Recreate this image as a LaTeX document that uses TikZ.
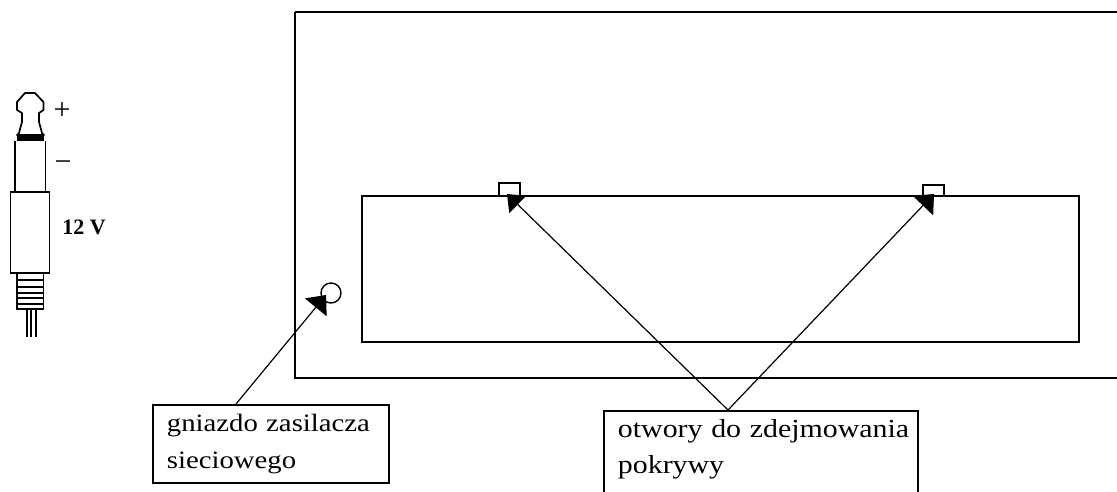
\documentclass[tikz,border=0pt]{standalone}
\usepackage{fontspec}
\setmainfont{Liberation Serif}
\newfontfamily\labelfont[FakeStretch=1.15]{Liberation Serif}
\usetikzlibrary{arrows.meta}
\tikzset{
  callout/.style={draw,line width=1.8pt,anchor=north west,align=left,text width=#1,inner xsep=14pt,inner ysep=0pt,font=\labelfont\fontsize{25}{37}\selectfont},
  pointer/.style={line width=1.2pt,-{Triangle[length=15pt,width=24pt]},shorten <=0pt},
  pointer wide/.style={line width=1.2pt,-{Triangle[length=16pt,width=28pt]},shorten <=0pt},
  part/.style={draw,line width=1.7pt,inner sep=0pt,anchor=north west},
  sign/.style={inner sep=0pt,font=\fontsize{30}{30}\selectfont}
}
\begin{document}
\begin{tikzpicture}[x=1pt,y=-1pt,line width=1.7pt]
\useasboundingbox (0,0) rectangle (1117,491);
\clip (0,0) rectangle (1117,491);
% housing
\draw (295,12) -- (1130,12) (295,12) -- (295,378) -- (1130,378);
\draw (362,196) rectangle (1079,342);
% holes and socket
\node[part,fill=white,minimum width=21pt,minimum height=13pt] (holeA) at (498,182) {};
\node[part,fill=white,minimum width=21pt,minimum height=11pt] (holeB) at (922,184) {};
\node[draw,circle,line width=1.4pt,inner sep=0pt,minimum size=20pt] (socket) at (331,293) {};
% labels
\node[callout=208pt,minimum height=78pt] (boxA) at (152,404) {gniazdo zasilacza\\sieciowego};
\node[callout=286pt,minimum height=86pt,font=\labelfont\fontsize{26}{36}\selectfont] (boxB) at (603,410) {\mbox{otwory do zdejmowania}\\pokrywy\rule[-15pt]{0pt}{15pt}};
% connector ends
\coordinate (tipS) at (326,295);
\coordinate (tipA) at (507,194);
\coordinate (tipB) at (934,194);
\coordinate (fromA) at (236,404);
\coordinate (fromB) at (728,410);
\draw[pointer wide] (fromA) -- (tipS);
\draw[pointer] (fromB) -- (tipA);
\draw[pointer wide] (fromB) -- (tipB);
% plug
\draw[line join=round] (17,102) -- (25,93) -- (35,93) -- (43.5,102) -- (43.5,110) -- (39,113) -- (39,122) -- (42,133) -- (44,135) -- (17,135) -- (19,133) -- (22,122) -- (22,113) -- (17,110) -- cycle;
\fill (17,135) rectangle (44,141);
\draw (15,141) -- (15,192) (45.5,141) -- (45.5,192);
\draw (10.5,192) rectangle (49.5,273);
\draw (17,273) rectangle (43.5,309);
\draw (17,280) -- (43.5,280) (17,287) -- (43.5,287) (17,293) -- (43.5,293) (17,298) -- (43.5,298) (17,304) -- (43.5,304);
\draw[line width=1.3pt] (27,309) -- (27,337) (31,309) -- (31,337) (36,309) -- (36,337);
\node[sign] (plus) at (62,111) {+};
\node[sign] (minus) at (63,166) {\textminus};
\node[inner sep=0pt,font=\fontsize{22}{22}\selectfont\bfseries] (volt) at (84,227) {12 V};
\end{tikzpicture}
\end{document}
